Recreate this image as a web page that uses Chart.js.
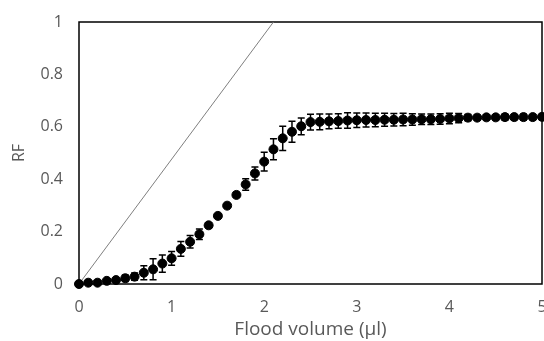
<!DOCTYPE html>
<html>
<head>
<meta charset="utf-8">
<script src="https://cdn.jsdelivr.net/npm/chart.js@4"></script>
<style>
  html, body { margin: 0; padding: 0; background: #fff; }
  #wrap { width: 544px; height: 341px; }
</style>
</head>
<body>
<div id="wrap"><canvas id="grafico"></canvas></div>
<script>
// dados
const floodVolume = [0, 0.1, 0.2, 0.3, 0.4, 0.5, 0.6, 0.7, 0.8, 0.9,
  1.0, 1.1, 1.2, 1.3, 1.4, 1.5, 1.6, 1.7, 1.8, 1.9,
  2.0, 2.1, 2.2, 2.3, 2.4, 2.5, 2.6, 2.7, 2.8, 2.9,
  3.0, 3.1, 3.2, 3.3, 3.4, 3.5, 3.6, 3.7, 3.8, 3.9,
  4.0, 4.1, 4.2, 4.3, 4.4, 4.5, 4.6, 4.7, 4.8, 4.9, 5.0];

const rfValues = [0, 0.005, 0.005, 0.012, 0.015, 0.022, 0.028, 0.043, 0.056, 0.078,
  0.098, 0.134, 0.161, 0.19, 0.224, 0.26, 0.299, 0.34, 0.38, 0.422,
  0.467, 0.514, 0.556, 0.581, 0.602, 0.618, 0.619, 0.621, 0.622, 0.624,
  0.625, 0.626, 0.626, 0.627, 0.627, 0.628, 0.628, 0.629, 0.629, 0.63,
  0.632, 0.633, 0.635, 0.635, 0.636, 0.636, 0.637, 0.637, 0.637, 0.637, 0.638];

const rfErrors = [0, 0.003, 0.003, 0.005, 0.006, 0.012, 0.014, 0.027, 0.04, 0.033,
  0.026, 0.028, 0.024, 0.02, 0.01, 0.006, 0.006, 0.01, 0.022, 0.025,
  0.036, 0.04, 0.046, 0.04, 0.032, 0.03, 0.03, 0.028, 0.028, 0.03,
  0.028, 0.027, 0.026, 0.025, 0.024, 0.024, 0.022, 0.02, 0.02, 0.02,
  0.02, 0.018, 0.012, 0.01, 0.01, 0.01, 0.012, 0.01, 0.012, 0.01, 0.01];

// linha de referência (0,0) -> (2.1,1)
const refLineX = [0, 2.1];
const refLineY = [0, 1];

const xTicks = [0, 1, 2, 3, 4, 5];
const yTicks = [0, 0.2, 0.4, 0.6, 0.8, 1];

const corTexto = "#595959";
const fonte = "'Open Sans', Lato, sans-serif";

// barras de erro desenhadas pelas escalas do próprio Chart.js
const errorBars = {
  id: "errorBars",
  beforeDatasetsDraw(chart) {
    const ctx = chart.ctx;
    const xs = chart.scales.x, ys = chart.scales.y;
    ctx.save();
    ctx.strokeStyle = "#000";
    ctx.lineWidth = 1.5;
    floodVolume.forEach((v, i) => {
      const e = rfErrors[i];
      if (!e) return;
      const px = xs.getPixelForValue(v);
      const top = ys.getPixelForValue(rfValues[i] + e);
      const bot = ys.getPixelForValue(rfValues[i] - e);
      ctx.beginPath();
      ctx.moveTo(px, top); ctx.lineTo(px, bot);
      ctx.moveTo(px - 3.5, top); ctx.lineTo(px + 3.5, top);
      ctx.moveTo(px - 3.5, bot); ctx.lineTo(px + 3.5, bot);
      ctx.stroke();
    });
    ctx.restore();
  }
};

// moldura da área do gráfico
const moldura = {
  id: "moldura",
  beforeDatasetsDraw(chart) {
    const { ctx, chartArea: a } = chart;
    ctx.save();
    ctx.strokeStyle = "#000";
    ctx.lineWidth = 1.5;
    ctx.strokeRect(a.left, a.top, a.right - a.left, a.bottom - a.top);
    ctx.restore();
  }
};

new Chart(document.getElementById("grafico"), {
  type: "scatter",
  data: {
    datasets: [
      {
        label: "RF",
        data: floodVolume.map((x, i) => ({ x, y: rfValues[i] })),
        backgroundColor: "#000",
        borderColor: "#000",
        pointRadius: 4.5,
        pointHoverRadius: 4.5,
        clip: false,
        order: 1
      },
      {
        label: "ref",
        type: "line",
        data: refLineX.map((x, i) => ({ x, y: refLineY[i] })),
        borderColor: "#7f7f7f",
        borderWidth: 1,
        pointRadius: 0,
        fill: false,
        order: 2
      }
    ]
  },
  options: {
    responsive: true, maintainAspectRatio: false,
    animation: false,
    layout: { autoPadding: false, padding: { top: 22, right: 2, left: 0, bottom: 0 } },
    plugins: { legend: { display: false }, tooltip: { enabled: false } },
    scales: {
      x: {
        type: "linear", min: 0, max: 5,
        afterBuildTicks: s => { s.ticks = xTicks.map(value => ({ value })); },
        afterFit: s => { s.paddingRight = 0; s.paddingLeft = 0; s.height = 57; },
        grid: { display: false },
        border: { display: false },
        ticks: { color: corTexto, font: { family: fonte, size: 16 }, padding: 6, maxRotation: 0 },
        title: { display: true, text: "Flood volume (µl)", color: corTexto, font: { family: fonte, size: 19 }, padding: { top: 0, bottom: 0 } }
      },
      y: {
        min: 0, max: 1,
        afterBuildTicks: s => { s.ticks = yTicks.map(value => ({ value })); },
        afterFit: s => { s.width = 79; },
        grid: { display: false },
        border: { display: false },
        ticks: { color: corTexto, font: { family: fonte, size: 16 }, padding: 8, callback: v => String(v) },
        title: { display: true, text: "RF", color: corTexto, font: { family: fonte, size: 16 }, padding: { top: 10, bottom: 0 } }
      }
    }
  },
  plugins: [moldura, errorBars]
});
</script>
</body>
</html>
